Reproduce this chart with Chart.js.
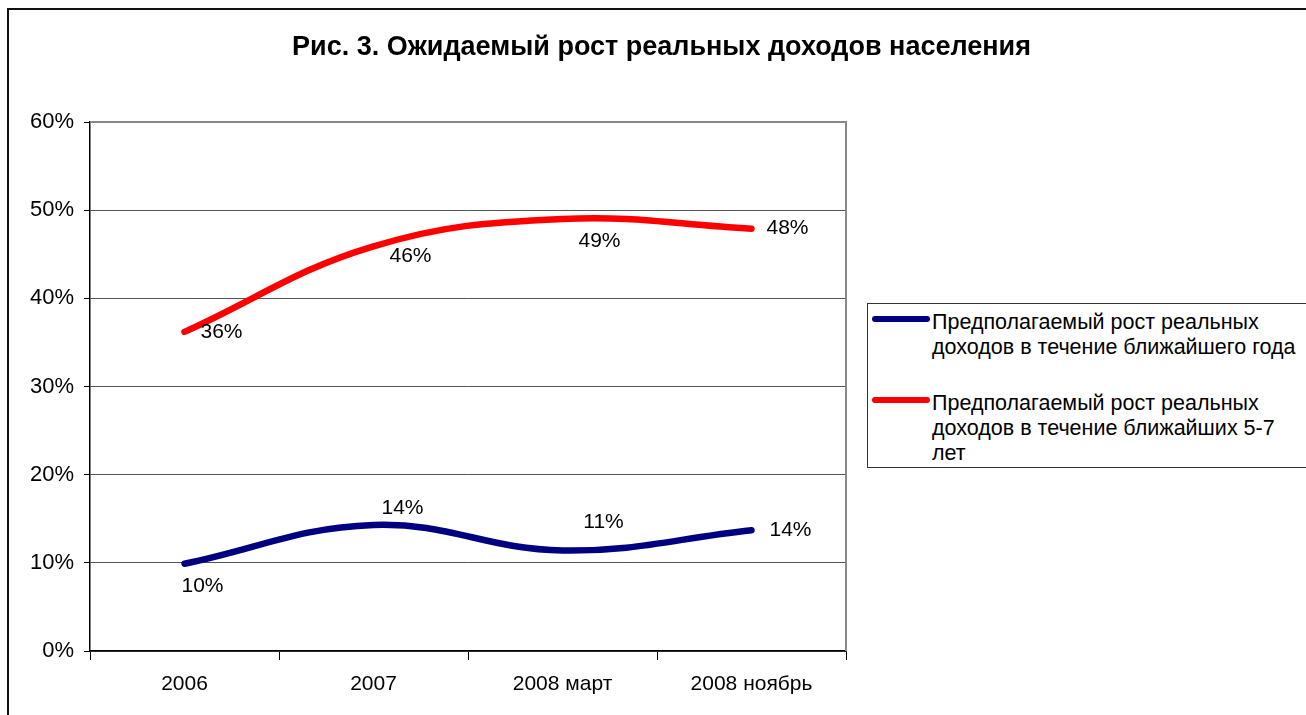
<!DOCTYPE html>
<html lang="ru">
<head>
<meta charset="utf-8">
<script src="https://cdn.jsdelivr.net/npm/chart.js@4.4.1/dist/chart.umd.min.js"></script>
<style>
  html, body { margin: 0; padding: 0; background: #fff; overflow: hidden; }
  #wrap { position: relative; width: 1306px; height: 715px; overflow: hidden; font-family: "Liberation Sans", Arial, sans-serif; }
  #c { position: absolute; left: 0; top: 0; }
  #frame { position: absolute; left: 7px; top: 8px; width: 1400px; height: 800px; border-left: 2px solid #111; border-top: 2px solid #111; box-sizing: border-box; pointer-events: none; }
  #legend { position: absolute; left: 867px; top: 303px; width: 500px; height: 165px; border: 1px solid #333; box-sizing: border-box; background: #fff; }
  .lg-line { position: absolute; left: 4px; width: 58px; height: 6px; border-radius: 3px; }
  .lg-text { position: absolute; left: 64px; font-size: 21.5px; line-height: 25px; color: #000; white-space: nowrap; }
</style>
</head>
<body>
<div id="wrap">
  <canvas id="c" width="1306" height="715"></canvas>
  <div id="frame"></div>
  <div id="legend"></div>
</div>
<script>
// ---- data ----
const categories = ['2006', '2007', '2008 март', '2008 ноябрь'];
const nextYear = [9.9, 14.3, 11.4, 13.7];
const next5to7 = [36.2, 45.9, 49.0, 47.9];
const nextYearLabels = ['10%', '14%', '11%', '14%'];
const next5to7Labels = ['36%', '46%', '49%', '48%'];
const seriesNames = [
  ['Предполагаемый рост реальных', 'доходов в течение ближайшего года'],
  ['Предполагаемый рост реальных', 'доходов в течение ближайших 5-7', 'лет']
];
const yTicks = [0, 10, 20, 30, 40, 50, 60];
const titleText = 'Рис. 3. Ожидаемый рост реальных доходов населения';

// ---- styles ----
const FONT = '"Liberation Sans", Arial, sans-serif';
const colors = ['#000080', '#FF0000'];
// label offsets (px) from each point: [dx, dy]
const labelOffsets = [
  [[18, 22], [29, -17], [41, -28], [39, 0]],
  [[37, 0], [37, 10], [37, 22], [36, 0]]
];
const labelTexts = [nextYearLabels, next5to7Labels];

const labelPlugin = {
  id: 'pointLabels',
  afterDatasetsDraw(chart) {
    const ctx = chart.ctx;
    ctx.save();
    ctx.font = '21px ' + FONT;
    ctx.fillStyle = '#000';
    ctx.textAlign = 'center';
    ctx.textBaseline = 'middle';
    chart.data.datasets.forEach((ds, i) => {
      const meta = chart.getDatasetMeta(i);
      meta.data.forEach((pt, j) => {
        const off = labelOffsets[i][j];
        ctx.fillText(labelTexts[i][j], pt.x + off[0], pt.y + off[1]);
      });
    });
    ctx.restore();
  }
};

const borderPlugin = {
  id: 'plotBorder',
  beforeDatasetsDraw(chart) {
    const a = chart.chartArea, ctx = chart.ctx;
    ctx.save();
    ctx.strokeStyle = '#888';
    ctx.lineWidth = 2;
    ctx.beginPath();
    ctx.moveTo(a.left, a.top);
    ctx.lineTo(a.right, a.top);
    ctx.lineTo(a.right, a.bottom);
    ctx.stroke();
    ctx.restore();
  }
};

new Chart(document.getElementById('c'), {
  type: 'line',
  data: {
    labels: categories,
    datasets: [
      { label: seriesNames[0].join(' '), data: nextYear, borderColor: colors[0], backgroundColor: colors[0] },
      { label: seriesNames[1].join(' '), data: next5to7, borderColor: colors[1], backgroundColor: colors[1] }
    ]
  },
  options: {
    responsive: false,
    devicePixelRatio: 1,
    animation: false,
    layout: { padding: { left: 17, right: 0, top: 0, bottom: 0 } },
    elements: {
      line: { borderWidth: 6.5, tension: 0.4, borderCapStyle: 'round', borderJoinStyle: 'round' },
      point: { radius: 0, hoverRadius: 0 }
    },
    plugins: {
      legend: { display: false },
      tooltip: { enabled: false },
      title: {
        display: true,
        text: titleText,
        color: '#000',
        font: { family: FONT, size: 27, weight: 'bold' },
        padding: { top: 31, bottom: 58.6 }
      }
    },
    scales: {
      x: {
        offset: true,
        grid: { offset: true, drawOnChartArea: false, drawTicks: true, tickLength: 9, tickColor: '#000', tickWidth: 1 },
        border: { display: true, color: '#000', width: 1.5 },
        ticks: { color: '#000', font: { family: FONT, size: 21 }, padding: 12, maxRotation: 0, autoSkip: false },
        afterFit(s) { s.height = 64; }
      },
      y: {
        min: 0, max: 60,
        afterBuildTicks(s) { s.ticks = yTicks.map(v => ({ value: v })); },
        grid: { color: '#555', lineWidth: 1, tickLength: 6, tickColor: '#000', drawTicks: true },
        border: { display: true, color: '#000', width: 1.5 },
        ticks: { color: '#000', font: { family: FONT, size: 22 }, padding: 10, callback: v => v + '%' },
        afterFit(s) { s.width = 73; }
      },
      yR: {
        position: 'right',
        display: true,
        grid: { drawOnChartArea: false, drawTicks: false },
        border: { display: false },
        ticks: { display: false },
        afterFit(s) { s.width = 460; }
      }
    }
  },
  plugins: [borderPlugin, labelPlugin]
});

// legend (HTML)
const legend = document.getElementById('legend');
const lineTops = [12, 93];
const textTops = [6, 87];
seriesNames.forEach((lines, i) => {
  const l = document.createElement('div');
  l.className = 'lg-line';
  l.style.top = lineTops[i] + 'px';
  l.style.background = colors[i];
  legend.appendChild(l);
  const t = document.createElement('div');
  t.className = 'lg-text';
  t.style.top = textTops[i] + 'px';
  t.innerHTML = lines.join('<br>');
  legend.appendChild(t);
});
</script>
</body>
</html>
